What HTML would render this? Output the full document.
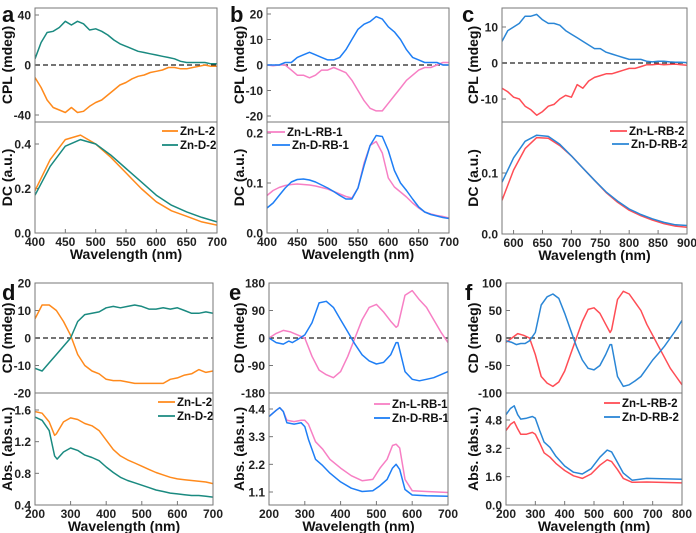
<!DOCTYPE html>
<html><head><meta charset="utf-8"><style>
html,body{margin:0;padding:0;background:#fff}
svg{display:block;font-family:"Liberation Sans",Arial,sans-serif;font-weight:bold}
</style></head><body>
<svg id="fig" width="696" height="533" viewBox="0 0 696 533"></svg>
<script>
// ---------- data ----------
const aCplX=[400,410,420,430,440,450,460,470,480,490,500,510,520,530,540,550,560,570,580,590,600,610,620,630,640,650,660,670,680,690,700];
const aCplD=[5,18,26,27,30,35,32,35,33,28,29,27,24,20,17,15,13,11,10,9,8,7,6,5,3,2,2,2,2,1,1];
const aCplL=[-10,-18,-28,-34,-36,-38,-34,-38,-37,-33,-30,-28,-24,-20,-16,-14,-11,-9,-8,-6,-5,-4,-2,-2,-3,-3,-2,-1,0,-1,-1];
const aDcX=[400,425,450,475,500,525,550,575,600,625,650,675,700];
const aDcL=[0.19,0.33,0.42,0.44,0.40,0.34,0.27,0.20,0.14,0.10,0.075,0.05,0.035];
const aDcD=[0.17,0.30,0.39,0.42,0.40,0.35,0.29,0.23,0.17,0.125,0.095,0.07,0.05];

const bX=[400,410,420,430,440,450,460,470,480,490,500,510,520,530,540,550,560,570,580,590,600,610,620,630,640,650,660,670,680,690,700];
const bCplD=[0,0,0,1,1,3,4,5,4,3,2,2,3,6,10,14,16,17,19,18,15,13,10,6,3,2,1,1,1,0,0];
const bCplL=[0,-0.3,0,0,-2,-4,-4,-5,-4,-2,-2,-1,-2,-3,-6,-10,-14,-17,-18,-18,-15,-12,-9,-6,-4,-2,-1,-1,0,1,1];
const bDcL=[.075,.085,.091,.095,.097,.098,.097,.096,.094,.091,.088,.083,.078,.073,.070,.090,.140,.175,.183,.160,.110,.092,.082,.072,.060,.050,.042,.038,.035,.033,.030];
const bDcD=[.050,.060,.075,.090,.102,.107,.108,.106,.102,.096,.090,.083,.075,.068,.068,.090,.135,.175,.195,.193,.165,.125,.100,.085,.068,.052,.042,.037,.034,.031,.029];

const cCplX=[580,590,600,610,620,630,640,650,660,670,680,690,700,710,720,730,740,750,760,770,780,790,800,810,820,830,840,850,860,870,880,890,900];
const cCplD=[6,9,10,11,13,13,13.5,12,11,11,10.5,9,8,7,6,5,4,4,3,2.5,2,1.5,1,1,1,0.5,0.3,0.5,0.5,0.3,0.2,0.2,0.1];
const cCplL=[-7,-8,-9.5,-10,-12,-13,-14.5,-13.5,-12,-11.5,-10,-9,-9.5,-6,-7,-5,-4,-3.5,-3,-3,-2.5,-2,-1.5,-1.5,-1,-0.5,-0.5,-0.3,-0.5,-0.4,-0.3,-0.5,-0.6];
const cDcX=[580,600,620,640,660,680,700,720,740,760,780,800,820,840,860,880,900];
const cDcL=[.055,.105,.140,.158,.157,.145,.128,.108,.088,.068,.052,.039,.030,.023,.017,.013,.011];
const cDcD=[.085,.125,.152,.162,.160,.147,.128,.108,.088,.069,.054,.041,.032,.025,.019,.015,.014];

const dCdX=[200,220,240,260,280,300,320,340,360,380,400,420,440,460,480,500,520,540,560,580,600,620,640,660,680,700];
const dCdL=[7,12,12,10,6,1,-6,-10,-12,-13,-15,-15.5,-15.5,-16,-16.5,-16.5,-16.5,-16.5,-16.5,-15,-14.5,-13.5,-13,-11.5,-12.5,-12];
const dCdD=[-11,-12,-9,-6,-3,0,6,8.5,9,9.5,11,11.5,11,11.5,12,11.5,10.5,10.5,11,10.5,11,10,9,9,9.5,9];
const dAbsLX=[200,220,240,255,260,280,300,320,340,360,380,400,420,440,460,480,500,520,540,560,580,600,620,640,660,680,700];
const dAbsL=[1.58,1.56,1.45,1.28,1.30,1.45,1.50,1.48,1.43,1.40,1.34,1.22,1.10,1.02,0.97,0.93,0.89,0.85,0.81,0.78,0.75,0.73,0.72,0.71,0.70,0.69,0.67];
const dAbsDX=[200,220,240,255,262,280,300,320,340,360,380,400,420,440,460,480,500,520,540,560,580,600,620,640,660,680,700];
const dAbsD=[1.51,1.47,1.34,1.02,0.98,1.07,1.12,1.09,1.03,1.00,0.96,0.88,0.81,0.75,0.71,0.68,0.65,0.62,0.59,0.57,0.55,0.54,0.53,0.52,0.52,0.51,0.50];

const eCdLX=[200,220,240,260,280,300,320,340,360,380,400,420,440,460,480,500,520,540,555,560,580,600,620,640,660,680,700];
const eCdL=[0,15,25,20,10,0,-60,-105,-120,-130,-110,-60,0,60,100,110,85,55,35,40,140,155,125,100,60,20,-15];
const eCdDX=[200,220,240,255,265,280,300,320,340,360,380,400,420,440,460,480,500,520,540,555,560,580,600,620,640,660,680,700];
const eCdD=[0,-15,-20,-10,-15,-5,10,50,115,120,100,60,20,-20,-55,-75,-85,-80,-55,-15,-15,-110,-135,-140,-135,-130,-120,-110];
const eAbsX=[200,220,230,240,250,270,290,300,310,330,350,370,400,430,460,490,510,530,545,555,565,580,600,640,700];
const eAbsL=[4.1,4.35,4.45,4.3,3.95,3.9,3.95,3.95,3.8,3.1,2.8,2.4,2.05,1.75,1.55,1.6,2.05,2.4,2.95,3.0,2.85,1.6,1.15,1.12,1.08];
const eAbsD=[4.1,4.35,4.45,4.3,3.85,3.8,3.85,3.7,3.2,2.4,2.15,1.85,1.5,1.25,1.12,1.15,1.35,1.6,2.05,2.2,2.0,1.2,0.98,0.95,0.93];

const fCdLX=[200,220,240,260,280,300,320,340,360,380,400,420,440,460,480,500,520,540,555,560,580,600,620,640,660,680,700,720,740,760,780,800];
const fCdL=[-8,0,8,5,0,-30,-70,-82,-88,-80,-60,-30,0,30,52,55,45,25,10,15,70,85,80,65,50,25,5,-15,-35,-55,-70,-85];
const fCdDX=[200,220,235,250,265,280,300,320,340,360,380,400,420,440,460,480,500,520,540,555,560,580,600,620,640,660,680,700,720,740,760,780,800];
const fCdD=[-5,-8,-12,-10,-10,-5,10,60,75,80,72,45,15,-15,-40,-55,-58,-50,-30,-12,-12,-70,-88,-85,-78,-70,-55,-40,-28,-15,0,15,32];
const fAbsX=[200,215,228,240,250,270,290,300,315,330,350,370,400,430,460,490,520,545,560,580,600,630,680,800];
const fAbsL=[4.2,4.55,4.7,4.3,4.0,4.0,4.1,4.0,3.5,2.95,2.7,2.35,1.95,1.65,1.5,1.75,2.25,2.55,2.45,2.0,1.5,1.28,1.3,1.25];
const fAbsD=[5.1,5.45,5.6,5.1,4.85,4.9,5.0,4.9,4.2,3.55,3.25,2.75,2.2,1.85,1.75,2.05,2.7,3.1,3.0,2.4,1.8,1.4,1.5,1.45];

const aXTicks=[400,450,500,550,600,650,700];
const cXTicks=[600,650,700,750,800,850,900];
const dXTicks=[200,300,400,500,600,700];
const fXTicks=[200,300,400,500,600,700,800];

// ---------- drawing ----------
const NS='http://www.w3.org/2000/svg';
const svg=document.getElementById('fig');
function mk(tag,attrs,parent){const e=document.createElementNS(NS,tag);for(const k in attrs)e.setAttribute(k,attrs[k]);(parent||svg).appendChild(e);return e;}
function lin(d0,d1,r0,r1){return v=>r0+(v-d0)*(r1-r0)/(d1-d0);}
let clipId=0;
function panel(p){
  const g=mk('g',{});
  
  
  const xs=lin(p.xd[0],p.xd[1],p.xr[0],p.xr[1]);
  const L=p.xr0,R=p.xr1;
  p.subs.forEach((s,si)=>{
    const ys=lin(s.y0[0],s.y1[0],s.y0[1],s.y1[1]);
    const top=s.box[0],bot=s.box[1];
    const cid='c'+(clipId++);
    const cp=mk('clipPath',{id:cid},g);mk('rect',{x:L,y:top,width:R-L,height:bot-top},cp);
    const sg=mk('g',{},g);
    
    
    s.ticks.forEach(t=>{
      const y=ys(t);
      if(y<top-1||y>bot+1) return;
      mk('line',{x1:L,x2:L+4,y1:y,y2:y,stroke:'#777','stroke-width':1},sg);
      const tx=mk('text',{x:L-4,y:y+4.5,'text-anchor':'end','font-size':12,fill:'#222'},sg);
      tx.textContent=s.fmt(t);
      
      
    });
    if(s.zero){const y=ys(0);mk('line',{x1:L,x2:R,y1:y,y2:y,stroke:'#222','stroke-width':1.3,'stroke-dasharray':'5,3'},sg);}
    s.series.forEach(sr=>{
      const pts=sr.x.map((xv,i)=>xs(xv).toFixed(1)+','+ys(sr.y[i]).toFixed(1)).join(' ');
      const pl=mk('polyline',{points:pts,fill:'none',stroke:sr.c,'stroke-width':1.5,'stroke-linejoin':'round','clip-path':'url(#'+cid+')'},sg);
      
      
    });
    const cy=(top+bot)/2;
    const yt=mk('text',{x:p.titleX,y:cy,'text-anchor':'middle','font-size':14,fill:'#111',transform:'rotate(-90 '+p.titleX+' '+cy+')'},sg);
    yt.textContent=s.title;
    
    
    if(s.legend){
      s.legend.forEach((lg,i)=>{
        const y=lg.y;
        mk('line',{x1:lg.x1,x2:lg.x2,y1:y,y2:y,stroke:lg.c,'stroke-width':1.8},sg);
        const t=mk('text',{x:lg.x2+2,y:y+4,'font-size':11.5,fill:'#111'},sg);
        t.textContent=lg.t;
        
        
      });
    }
  });
  const T=p.subs[0].box[0],M=p.subs[0].box[1],B=p.subs[1].box[1];
  mk('rect',{x:L,y:T,width:R-L,height:B-T,fill:'none',stroke:'#777','stroke-width':1},g);
  mk('line',{x1:L,x2:R,y1:M,y2:M,stroke:'#777','stroke-width':1},g);
  p.xt.forEach(t=>{
    const x=xs(t);
    mk('line',{x1:x,x2:x,y1:B,y2:B-4,stroke:'#777','stroke-width':1},g);
    const tx=mk('text',{x:x,y:B+13,'text-anchor':'middle','font-size':12,fill:'#222'},g);
    tx.textContent=t;
    
    
  });
  const xt=mk('text',{x:(L+R)/2,y:B+26,'text-anchor':'middle','font-size':14,fill:'#111'},g);
  xt.textContent='Wavelength (nm)';
  
  
  const lt=mk('text',{x:p.lx,y:p.ly,'font-size':22,fill:'#111'},g);
  lt.textContent=p.letter;
  
  
}
const f0=v=>String(v), f1=v=>v.toFixed(1);
const OR='#ff8a1c',TE='#1a8a80',PK='#f77fc4',BL='#1e7ef5',RD='#ff4d55',BC='#2a86d6';
panel({letter:'a',lx:2,ly:22,titleX:12,xd:[400,700],xr:[35,217],xr0:35,xr1:217,xt:aXTicks,subs:[
 {name:'cpl',box:[8,122],y0:[40,15],y1:[-40,115],ticks:[40,0,-40],fmt:f0,zero:true,title:'CPL (mdeg)',
  series:[{n:'zn-d-2',x:aCplX,y:aCplD,c:TE},{n:'zn-l-2',x:aCplX,y:aCplL,c:OR}]},
 {name:'dc',box:[122,233],y0:[0,233],y1:[0.4,144],ticks:[0,0.2,0.4],fmt:f1,title:'DC (a.u.)',
  series:[{n:'zn-l-2',x:aDcX,y:aDcL,c:OR},{n:'zn-d-2',x:aDcX,y:aDcD,c:TE}],
  legend:[{x1:162,x2:178,y:131,c:OR,t:'Zn-L-2'},{x1:162,x2:178,y:145,c:TE,t:'Zn-D-2'}]}]});
panel({letter:'b',lx:230,ly:22,titleX:244,xd:[400,700],xr:[267,449],xr0:267,xr1:449,xt:aXTicks,subs:[
 {name:'cpl',box:[8,122],y0:[20,14],y1:[-20,116],ticks:[20,10,0,-10,-20],fmt:f0,zero:true,title:'CPL (mdeg)',
  series:[{n:'zn-l-rb-1',x:bX,y:bCplL,c:PK},{n:'zn-d-rb-1',x:bX,y:bCplD,c:BL}]},
 {name:'dc',box:[122,233],y0:[0,233],y1:[0.2,133],ticks:[0,0.1,0.2],fmt:f1,title:'DC (a.u.)',
  series:[{n:'zn-l-rb-1',x:bX,y:bDcL,c:PK},{n:'zn-d-rb-1',x:bX,y:bDcD,c:BL}],
  legend:[{x1:267,x2:285,y:132,c:PK,t:'Zn-L-RB-1'},{x1:272,x2:290,y:145,c:BL,t:'Zn-D-RB-1'}]}]});
panel({letter:'c',lx:462,ly:22,titleX:478,xd:[580,900],xr:[502,687],xr0:502,xr1:687,xt:cXTicks,subs:[
 {name:'cpl',box:[8,122],y0:[10,27],y1:[-10,99],ticks:[10,0,-10],fmt:f0,zero:true,title:'CPL (mdeg)',
  series:[{n:'zn-d-rb-2',x:cCplX,y:cCplD,c:BC},{n:'zn-l-rb-2',x:cCplX,y:cCplL,c:RD}]},
 {name:'dc',box:[122,234],y0:[0,234],y1:[0.1,173],ticks:[0,0.1],fmt:f1,title:'DC (a.u.)',
  series:[{n:'zn-l-rb-2',x:cDcX,y:cDcL,c:RD},{n:'zn-d-rb-2',x:cDcX,y:cDcD,c:BC}],
  legend:[{x1:610,x2:627,y:131,c:RD,t:'Zn-L-RB-2'},{x1:612,x2:629,y:144,c:BC,t:'Zn-D-RB-2'}]}]});
panel({letter:'d',lx:2,ly:300,titleX:12,xd:[200,700],xr:[35,213],xr0:35,xr1:213,xt:dXTicks,subs:[
 {name:'cd',box:[283,393],y0:[20,283],y1:[-20,393],ticks:[20,10,0,-10,-20],fmt:f0,zero:true,title:'CD (mdeg)',
  series:[{n:'zn-l-2',x:dCdX,y:dCdL,c:OR},{n:'zn-d-2',x:dCdX,y:dCdD,c:TE}]},
 {name:'abs',box:[393,505],y0:[1.6,410],y1:[0.4,505],ticks:[1.6,1.2,0.8,0.4],fmt:f1,title:'Abs. (abs.u.)',
  series:[{n:'zn-l-2',x:dAbsLX,y:dAbsL,c:OR},{n:'zn-d-2',x:dAbsDX,y:dAbsD,c:TE}],
  legend:[{x1:158,x2:175,y:402,c:OR,t:'Zn-L-2'},{x1:158,x2:175,y:416,c:TE,t:'Zn-D-2'}]}]});
panel({letter:'e',lx:229,ly:300,titleX:244,xd:[200,700],xr:[269,448],xr0:269,xr1:448,xt:dXTicks,subs:[
 {name:'cd',box:[283,393],y0:[180,283],y1:[-180,393],ticks:[180,90,0,-90,-180],fmt:f0,zero:true,title:'CD (mdeg)',
  series:[{n:'zn-l-rb-1',x:eCdLX,y:eCdL,c:PK},{n:'zn-d-rb-1',x:eCdDX,y:eCdD,c:BL}]},
 {name:'abs',box:[393,505],y0:[4.4,409],y1:[1.1,492],ticks:[4.4,3.3,2.2,1.1],fmt:f1,title:'Abs. (abs.u.)',
  series:[{n:'zn-l-rb-1',x:eAbsX,y:eAbsL,c:PK},{n:'zn-d-rb-1',x:eAbsX,y:eAbsD,c:BL}],
  legend:[{x1:374,x2:390,y:404,c:PK,t:'Zn-L-RB-1'},{x1:374,x2:390,y:418,c:BL,t:'Zn-D-RB-1'}]}]});
panel({letter:'f',lx:465,ly:300,titleX:478,xd:[200,800],xr:[506,682],xr0:506,xr1:682,xt:fXTicks,subs:[
 {name:'cd',box:[283,393],y0:[100,283],y1:[-100,393],ticks:[100,50,0,-50,-100],fmt:f0,zero:true,title:'CD (mdeg)',
  series:[{n:'zn-l-rb-2',x:fCdLX,y:fCdL,c:RD},{n:'zn-d-rb-2',x:fCdDX,y:fCdD,c:BC}]},
 {name:'abs',box:[393,505],y0:[4.8,420],y1:[0,505],ticks:[4.8,3.2,1.6,0],fmt:f1,title:'Abs. (abs.u.)',
  series:[{n:'zn-l-rb-2',x:fAbsX,y:fAbsL,c:RD},{n:'zn-d-rb-2',x:fAbsX,y:fAbsD,c:BC}],
  legend:[{x1:604,x2:620,y:403,c:RD,t:'Zn-L-RB-2'},{x1:604,x2:620,y:417,c:BC,t:'Zn-D-RB-2'}]}]});
</script>
</body></html>
